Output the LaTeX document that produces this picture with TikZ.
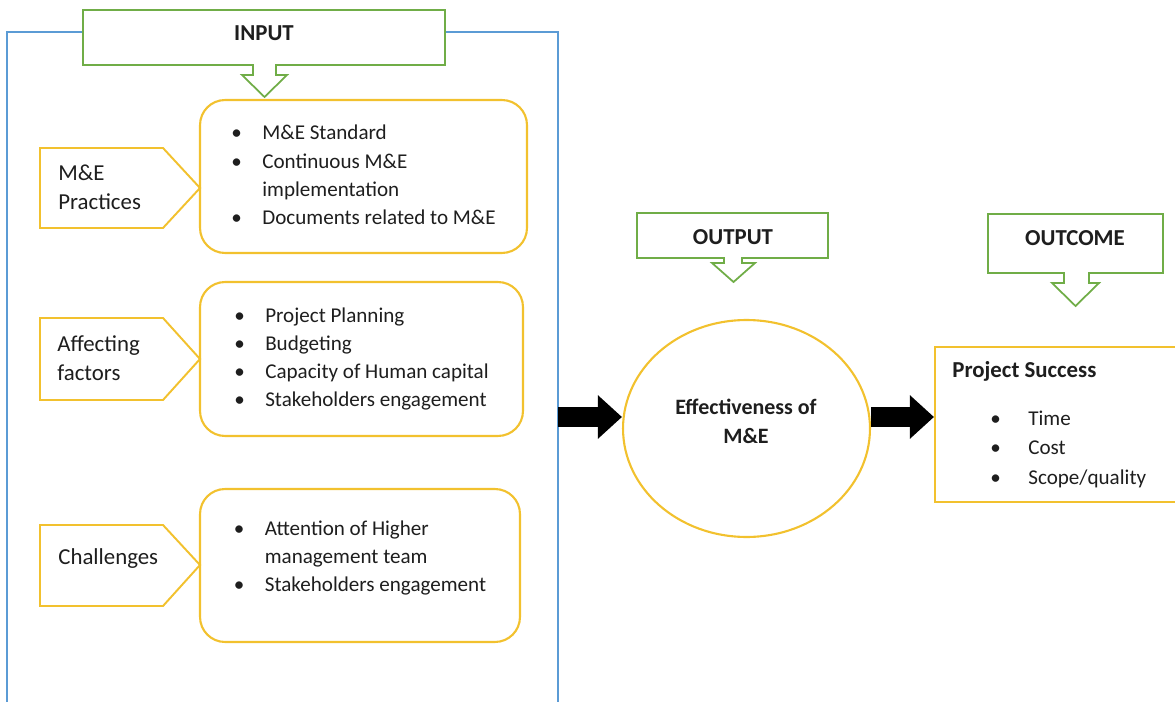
\documentclass[tikz,border=0pt]{standalone}
\usepackage{fontspec}
\setmainfont{Carlito}
\usetikzlibrary{arrows.meta,shapes.geometric}
\definecolor{frameblue}{RGB}{91,155,213}
\definecolor{boxgold}{RGB}{242,193,46}
\definecolor{calloutgreen}{RGB}{112,173,71}
\definecolor{inkgrey}{RGB}{30,30,30}

\begin{document}
\begin{tikzpicture}[x=0.02cm,y=-0.02cm,
	listbox/.style={draw=boxgold,line width=1.2pt,rounded corners=0.5cm,inner sep=0pt,align=left,font=\fontsize{12}{16}\selectfont,text=inkgrey},
	tagline/.style={draw=boxgold,line width=1.1pt,fill=white},
	taglabel/.style={anchor=west,inner sep=0pt,align=left,font=\fontsize{13}{16.5}\selectfont,text=inkgrey},
	callout/.style={draw=calloutgreen,line width=1pt,fill=white},
	heading/.style={inner sep=0pt,font=\bfseries\fontsize{13}{16}\selectfont,text=inkgrey},
	bigarrow/.style={line width=0.4cm,-{Triangle[length=0.48cm,width=0.84cm]}}]
	\useasboundingbox (0,0) rectangle (1175,702);
	% input frame
	\draw[frameblue,line width=1pt](7,710)--(7,32)--(558,32)--(558,710);
	\draw[callout](83,10)--(445,10)--(445,65)--(276,65)--(276,75)--(287,75)--(264.5,97)--(242,75)--(253,75)--(253,65)--(83,65)--cycle;
	\node[heading](input) at (264,33){INPUT};
	% input groups
	\node[listbox,minimum width=6.54cm,minimum height=3.06cm](practices) at (363.5,176.5){\begin{tabular}{@{}p{0.62cm}@{}l@{}}
		\textbullet & M\&E Standard\\
		\textbullet & Continuous M\&E\\
		& implementation\\
		\textbullet & Documents related to M\&E
	\end{tabular}};
	\node[listbox,minimum width=6.46cm,minimum height=3.08cm](factors) at (361.5,359){\begin{tabular}{@{}p{0.62cm}@{}l@{}}
		\textbullet & Project Planning\\
		\textbullet & Budgeting\\
		\textbullet & Capacity of Human capital\\
		\textbullet & Stakeholders engagement
	\end{tabular}};
	\node[listbox,minimum width=6.4cm,minimum height=3.06cm](challenges) at (360,565.5){\begin{tabular}{@{}p{0.62cm}@{}l@{}}
		\textbullet & Attention of Higher\\
		& management team\\
		\textbullet & Stakeholders engagement\\[0.3cm]
	\end{tabular}};
	\draw[tagline](40,148)--(163,148)--(200,188)--(163,228)--(40,228)--cycle;
	\node[taglabel](practag) at (58,187){M\&E\\Practices};
	\draw[tagline](40,318)--(163,318)--(200,359)--(163,400)--(40,400)--cycle;
	\node[taglabel](factag) at (57,358){Affecting\\factors};
	\draw[tagline](40,525)--(163,525)--(200,565)--(163,606)--(40,606)--cycle;
	\node[taglabel](chaltag) at (58,559){Challenges};
	% output and outcome
	\draw[callout](637,213)--(828,213)--(828,258)--(742,258)--(742,263)--(755,263)--(733.5,282)--(712,263)--(724,263)--(724,258)--(637,258)--cycle;
	\node[heading](output) at (733,237){OUTPUT};
	\draw[callout](988,214)--(1163,214)--(1163,273)--(1089,273)--(1089,283)--(1099,283)--(1075.5,306)--(1052,283)--(1064,283)--(1064,273)--(988,273)--cycle;
	\node[heading](outcome) at (1075,238){OUTCOME};
	\node[ellipse,draw=boxgold,line width=1.2pt,minimum width=4.94cm,minimum height=4.34cm](effect) at (746.5,428.5){};
	\node[align=center,inner sep=0pt,text=inkgrey,font=\bfseries\fontsize{12.5}{16.5}\selectfont](efftext) at (746,421){Effectiveness of\\M\&E};
	\node[draw=boxgold,line width=1.2pt,minimum width=4.9cm,minimum height=3.1cm](success) at (1057.5,424.5){};
	\node[heading,anchor=west](succtitle) at (952,371){Project Success};
	\node[anchor=west,inner sep=0pt,font=\fontsize{12}{16.7}\selectfont,text=inkgrey](succlist) at (990,449){\begin{tabular}{@{}p{0.76cm}@{}l@{}}
		\textbullet & Time\\
		\textbullet & Cost\\
		\textbullet & Scope/quality
	\end{tabular}};
	% flow arrows
	\coordinate(gate) at (558,417);
	\draw[bigarrow](gate)--(gate -| effect.west);
	\draw[bigarrow](gate -| effect.east)--(gate -| success.west);
\end{tikzpicture}
\end{document}
